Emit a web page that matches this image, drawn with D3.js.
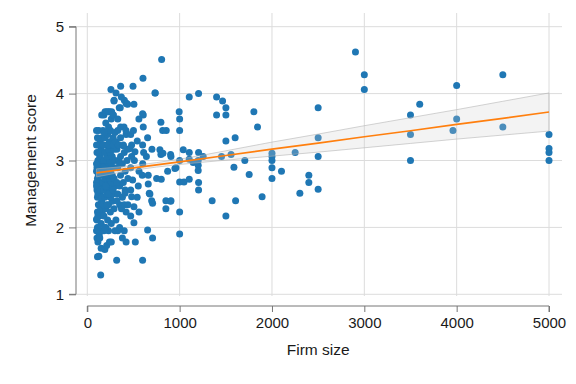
<!DOCTYPE html>
<html><head><meta charset="utf-8">
<script src="https://cdn.jsdelivr.net/npm/d3@7"></script>
<style>html,body{margin:0;padding:0;background:#fff;}svg{display:block;font-family:"Liberation Sans",Arial,sans-serif;}</style>
</head><body>
<svg id="chart" width="576" height="384"></svg>
<script>
// ---- data (firm size, management score) ----
const observations = [
 [145,1.29],[110,1.56],[125,1.57],[150,1.69],[115,1.78],[105,1.84],[130,1.89],[140,1.95],[110,2.0],[150,2.06],[105,2.11],[130,2.17],[160,2.23],[145,2.28],[120,2.34],[155,2.39],[110,2.45],[135,2.5],[105,2.56],[150,2.6],[120,2.62],[140,2.67],[110,2.73],[155,2.78],[125,2.84],[105,2.89],[145,2.95],[115,3.0],[135,3.06],[105,3.12],[150,3.17],[120,3.23],[140,3.28],[110,3.34],[125,3.45],[100,3.45],[100,3.23],[100,2.95],[100,2.67],[115,2.5],[110,2.23],[120,2.0],[135,1.84],[100,2.84],[100,2.62],[100,2.12],[100,1.95],[130,3.12],[160,3.34],[120,2.78],[140,2.56],[160,2.45],[115,2.17],
 [190,1.67],[210,1.73],[240,1.78],[260,1.78],[180,1.95],[230,1.95],[200,2.0],[260,2.06],[220,2.11],[180,2.17],[250,2.23],[200,2.28],[290,2.28],[170,2.34],[230,2.34],[270,2.39],[190,2.45],[250,2.45],[210,2.5],[280,2.5],[180,2.56],[240,2.56],[200,2.6],[270,2.62],[300,2.62],[170,2.67],[220,2.67],[260,2.67],[190,2.73],[240,2.73],[290,2.73],[210,2.78],[270,2.78],[180,2.84],[250,2.84],[220,2.89],[290,2.89],[200,2.95],[260,2.95],[180,3.0],[240,3.0],[300,3.0],[210,3.06],[270,3.06],[190,3.12],[250,3.12],[230,3.17],[290,3.17],[170,3.23],[210,3.23],[260,3.23],[240,3.28],[190,3.34],[280,3.34],[220,3.39],[170,3.45],[250,3.45],[230,3.5],[200,3.56],[260,3.62],[180,3.68],[280,3.68],[210,3.73],[240,3.73],[256,4.06],[290,3.9],[156,3.68],[192,3.73],[228,3.73],[264,3.73],[282,3.68],[174,3.23],[228,3.23],[282,3.23],[246,3.45],[184,3.42],[300,3.42],[200,2.62],[230,2.5],[170,2.9],[280,2.56],[210,2.34],[190,2.0],
 [318,1.51],[420,1.78],[380,1.84],[400,1.95],[330,1.95],[350,2.0],[310,2.11],[420,2.23],[350,2.34],[400,2.34],[440,2.34],[380,2.45],[330,2.5],[410,2.56],[350,2.62],[320,2.67],[390,2.67],[440,2.73],[360,2.78],[410,2.84],[330,2.89],[380,2.95],[340,3.0],[430,3.0],[360,3.06],[400,3.12],[320,3.17],[440,3.17],[340,3.23],[390,3.23],[310,3.28],[360,3.34],[420,3.39],[330,3.45],[361,3.5],[397,3.5],[419,3.45],[330,3.62],[346,3.79],[437,3.84],[419,3.86],[401,3.9],[369,3.95],[311,4.01],[361,4.11],[336,3.23],[390,3.22],[357,3.79],[289,3.89],[426,3.85],[408,2.51],[370,2.28],[320,2.4],[300,1.95],[350,2.95],
 [599,1.51],[520,1.78],[707,1.84],[653,1.96],[505,2.07],[470,2.17],[560,2.23],[505,2.31],[707,2.36],[697,2.4],[540,2.45],[480,2.46],[671,2.51],[470,2.56],[552,2.62],[491,2.71],[595,2.78],[660,2.78],[560,2.84],[470,2.89],[600,2.95],[510,3.0],[640,3.06],[480,3.06],[516,3.13],[462,3.18],[610,3.12],[700,3.17],[599,3.23],[480,3.23],[541,3.29],[653,3.34],[470,3.39],[500,3.45],[606,3.5],[559,3.62],[606,3.68],[599,3.7],[505,3.84],[733,4.01],[495,4.11],[603,4.23],[660,2.65],[678,2.5],
 [805,4.51],[736,4.01],[797,3.57],[855,3.45],[816,3.45],[786,3.16],[797,3.09],[819,3.11],[906,3.06],[902,3.09],[870,2.84],[949,2.88],[960,2.89],[751,2.73],[801,2.72],[851,2.28],[902,2.39],[851,2.4],[906,2.4],[995,3.73],[1000,3.62],[1000,3.45],[1000,3.0],[1000,2.68],[1000,2.23],[1000,1.9],
 [1039,3.16],[1047,2.68],[1104,2.72],[1104,3.95],[1205,4.0],[1104,3.12],[1205,3.12],[1104,3.02],[1147,2.97],[1201,3.0],[1201,2.93],[1201,2.85],[1205,2.67],[1205,2.56],[1255,3.06],[1352,2.4],[1400,3.95],[1465,3.89],[1501,3.79],[1501,3.68],[1400,3.68],[1454,3.06],[1501,3.29],[1601,3.34],[1557,3.09],[1588,2.9],[1606,2.4],[1501,2.17],
 [1706,3.0],[1753,2.79],[1804,3.73],[1843,3.5],[1893,2.46],[2000,3.11],[2000,3.06],[2000,3.0],[2000,2.89],[2000,2.73],[2103,2.84],[2251,3.12],[2302,2.51],[2399,2.78],[2399,2.67],[2500,3.79],[2500,3.34],[2500,3.06],[2500,2.57],
 [2904,4.62],[3000,4.28],[3000,4.06],[3500,3.68],[3500,3.39],[3500,3.0],[3600,3.84],[3960,3.45],[4000,4.12],[4000,3.62],[4500,4.28],[4500,3.5],[5000,3.39],[5000,3.18],[5000,3.12],[5000,3.0]
];
// regression fit and confidence band
const fitX     = [100, 500, 1000, 1500, 2000, 2500, 3000, 3500, 4000, 4500, 5000];
const fitY     = [2.815, 2.89, 2.98, 3.075, 3.17, 3.26, 3.355, 3.445, 3.54, 3.63, 3.725];
const bandLow  = [2.755, 2.855, 2.94, 3.005, 3.065, 3.125, 3.19, 3.255, 3.32, 3.38, 3.44];
const bandHigh = [2.875, 2.925, 3.02, 3.145, 3.275, 3.395, 3.52, 3.64, 3.76, 3.885, 4.01];
const xTicks = [0, 1000, 2000, 3000, 4000, 5000];
const yTicks = [1, 2, 3, 4, 5];
const xTitle = "Firm size";
const yTitle = "Management score";

const svg = d3.select("#chart");
const x = d3.scaleLinear().domain([0, 5000]).range([87.3, 549]);
const y = d3.scaleLinear().domain([1, 5]).range([294.3, 26.7]);
const plotL = 76, plotR = 562, plotT = 13, plotB = 296;

// grid
const g = svg.append("g");
g.selectAll("line.vg").data(xTicks).join("line")
  .attr("x1", d => x(d)).attr("x2", d => x(d)).attr("y1", plotT).attr("y2", plotB)
  .attr("stroke", "#dcdcdc").attr("stroke-width", 1);
g.selectAll("line.hg").data(yTicks).join("line")
  .attr("x1", plotL).attr("x2", plotR).attr("y1", d => y(d)).attr("y2", d => y(d))
  .attr("stroke", "#dcdcdc").attr("stroke-width", 1);

// points
svg.append("g").selectAll("circle").data(observations).join("circle")
  .attr("cx", d => x(d[0])).attr("cy", d => y(d[1])).attr("r", 3.5)
  .attr("fill", "#1f77b4");

// band
const band = fitX.map((v, i) => ({x: v, lo: bandLow[i], hi: bandHigh[i], f: fitY[i]}));
svg.append("path").datum(band)
  .attr("d", d3.area().x(d => x(d.x)).y0(d => y(d.lo)).y1(d => y(d.hi)).curve(d3.curveMonotoneX))
  .attr("fill", "#d0d0d0").attr("fill-opacity", 0.25)
  .attr("stroke", "#b0b0b0").attr("stroke-opacity", 0.7).attr("stroke-width", 0.8);
svg.append("path").datum(band)
  .attr("d", d3.line().x(d => x(d.x)).y(d => y(d.f)))
  .attr("fill", "none").attr("stroke", "#ff7f0e").attr("stroke-width", 1.7);

// axes
const xAxis = svg.append("g").attr("transform", "translate(0,306)")
  .call(d3.axisBottom(x).tickValues(xTicks).tickSize(6).tickPadding(5).tickFormat(d3.format("d")));
const yAxis = svg.append("g").attr("transform", `translate(${plotL},0)`)
  .call(d3.axisLeft(y).tickValues(yTicks).tickSize(7).tickPadding(5).tickFormat(d3.format("d")));
[xAxis, yAxis].forEach(a => {
  a.select(".domain").attr("stroke", "#777");
  a.selectAll(".tick line").attr("stroke", "#777");
  a.selectAll(".tick text").attr("fill", "#1a1a1a").style("font-size", "15px")
   .style("font-family", "'Liberation Sans', Arial, sans-serif");
});
xAxis.select(".domain").attr("d", `M${x(0)},6V0H${x(5000)}V6`);
yAxis.select(".domain").attr("d", `M-7,${y(5)}H0V${y(1)}H-7`);

svg.append("text").attr("x", (x(0) + x(5000)) / 2).attr("y", 355)
  .attr("text-anchor", "middle").attr("fill", "#1a1a1a").style("font-size", "15.5px").text(xTitle);
svg.append("text").attr("transform", `translate(36,${(y(1) + y(5)) / 2}) rotate(-90)`)
  .attr("text-anchor", "middle").attr("fill", "#1a1a1a").style("font-size", "15.5px").text(yTitle);
</script>
</body></html>
